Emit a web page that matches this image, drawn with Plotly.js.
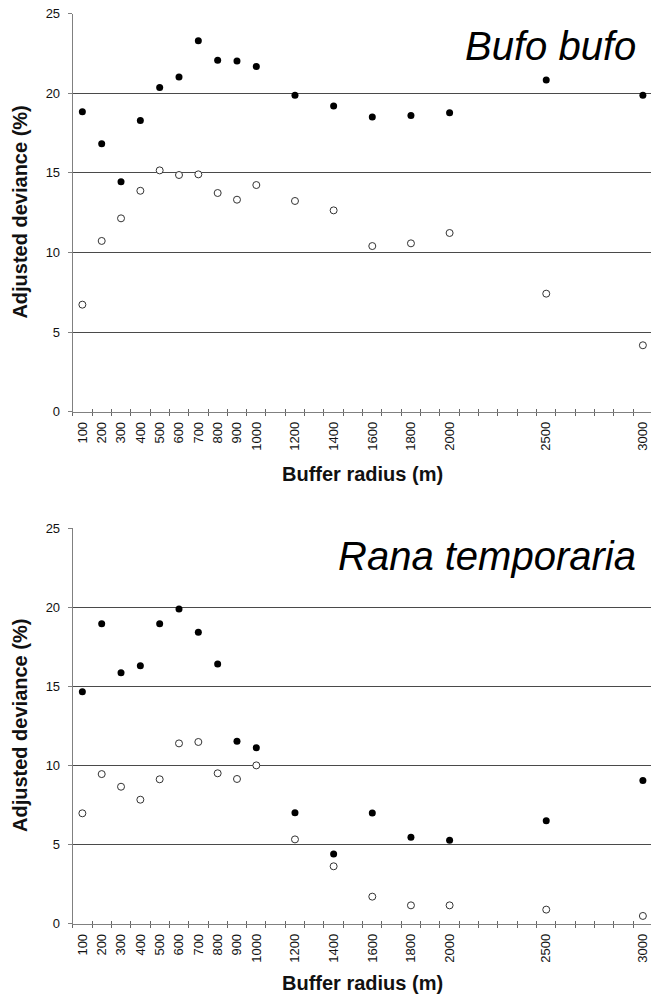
<!DOCTYPE html>
<html>
<head>
<meta charset="utf-8">
<script src="https://cdn.plot.ly/plotly-3.0.1.min.js"></script>
<style>html,body{margin:0;padding:0;background:#fff}#chart{width:651px;height:998px}</style>
</head>
<body>
<div id="chart"></div>
<script>
// Buffer radius categories (m) that carry data
const radius = [100, 200, 300, 400, 500, 600, 700, 800, 900, 1000, 1200, 1400, 1600, 1800, 2000, 2500, 3000];
const radiusLabels = ["100","200","300","400","500","600","700","800","900","1000","1200","1400","1600","1800","2000","2500","3000"];

// Bufo bufo – adjusted deviance (%)
const bufoFilled = [18.83, 16.82, 14.44, 18.29, 20.36, 21.01, 23.29, 22.06, 22.01, 21.68, 19.86, 19.19, 18.50, 18.60, 18.77, 20.82, 19.86];
const bufoOpen   = [6.72, 10.72, 12.14, 13.87, 15.15, 14.86, 14.90, 13.73, 13.31, 14.23, 13.23, 12.64, 10.40, 10.57, 11.22, 7.41, 4.17];

// Rana temporaria – adjusted deviance (%)
const ranaFilled = [14.66, 18.96, 15.87, 16.31, 18.96, 19.90, 18.42, 16.42, 11.53, 11.13, 7.02, 4.41, 7.00, 5.46, 5.27, 6.51, 9.06];
const ranaOpen   = [6.98, 9.46, 8.66, 7.84, 9.13, 11.40, 11.49, 9.51, 9.15, 10.01, 5.33, 3.63, 1.71, 1.16, 1.16, 0.89, 0.49];

const yTicks = [0, 5, 10, 15, 20, 25];
const speciesNames = ["Bufo bufo", "Rana temporaria"];
const xTitle = "Buffer radius (m)";
const yTitle = "Adjusted deviance (%)";

// category boundaries for tick marks (every 100 m category)
const boundaries = [];
for (let b = 50; b <= 3050; b += 100) boundaries.push(b);

const FONT = "Liberation Sans, Arial, sans-serif";
const xRange = [50, 3042];
const xDomain = [72.7 / 651, 1];
const H = 998;
const dom = (top, bottom) => [1 - bottom / H, 1 - top / H];
const topDom = dom(13.5, 411.7);
const botDom = dom(528.3, 923.7);

function filledTrace(y, xa, ya) {
  return {type: "scatter", mode: "markers", x: radius, y: y, xaxis: xa, yaxis: ya,
    marker: {color: "#000", size: 7, line: {width: 0}}, showlegend: false, hoverinfo: "x+y"};
}
function openTrace(y, xa, ya) {
  return {type: "scatter", mode: "markers", x: radius, y: y, xaxis: xa, yaxis: ya,
    marker: {color: "#fff", size: 7, line: {color: "#333", width: 1}}, showlegend: false, hoverinfo: "x+y"};
}
function emptyTrace(xa, ya) {
  return {type: "scatter", mode: "markers", x: [], y: [], xaxis: xa, yaxis: ya, showlegend: false, hoverinfo: "skip"};
}

const data = [
  openTrace(bufoOpen, "x", "y"),
  filledTrace(bufoFilled, "x", "y"),
  openTrace(ranaOpen, "x2", "y2"),
  filledTrace(ranaFilled, "x2", "y2"),
  emptyTrace("x3", "y"), emptyTrace("x5", "y"),
  emptyTrace("x4", "y2"), emptyTrace("x6", "y2")
];

function labelAxis(anchor) {
  return {domain: xDomain, range: xRange, anchor: anchor, type: "linear",
    tickmode: "array", tickvals: radius, ticktext: radiusLabels, tickangle: -90,
    ticks: "", ticklabelstandoff: 4, showgrid: false, zeroline: false, showline: true, linecolor: "#808080", linewidth: 1,
    tickfont: {family: FONT, size: 13, color: "#111"}, fixedrange: true};
}
function tickAxis(anchor, overlay, dir) {
  return {domain: xDomain, range: xRange, anchor: anchor, overlaying: overlay, type: "linear",
    tickmode: "array", tickvals: boundaries, ticks: dir, ticklen: 3, tickwidth: 1, tickcolor: "#666",
    showticklabels: false, showgrid: false, zeroline: false, showline: false, fixedrange: true};
}
function yAxis(domain, anchor) {
  return {domain: domain, range: [0, 25], anchor: anchor, tickmode: "array", tickvals: yTicks,
    ticks: "outside", ticklen: 4, tickcolor: "#808080", ticklabelstandoff: 5,
    showgrid: true, gridcolor: "#4a4a4a", gridwidth: 1,
    zeroline: false, showline: true, linecolor: "#808080", linewidth: 1,
    tickfont: {family: FONT, size: 13, color: "#111"}, fixedrange: true};
}

const ann = [];
// species labels
ann.push({text: speciesNames[0], xref: "paper", yref: "paper", x: 638 / 651, y: 1 - 46 / H,
  xanchor: "right", yanchor: "middle", showarrow: false, font: {family: FONT, size: 40, color: "#000", style: "italic"}});
ann.push({text: speciesNames[1], xref: "paper", yref: "paper", x: 638 / 651, y: 1 - 556 / H,
  xanchor: "right", yanchor: "middle", showarrow: false, font: {family: FONT, size: 40, color: "#000", style: "italic"}});
// axis titles
const xc = (xDomain[0] + 651.7 / 651) / 2;
ann.push({text: "<b>" + xTitle + "</b>", xref: "paper", yref: "paper", x: xc, y: 1 - 474 / H,
  xanchor: "center", yanchor: "middle", showarrow: false, font: {family: FONT, size: 20, color: "#111"}});
ann.push({text: "<b>" + xTitle + "</b>", xref: "paper", yref: "paper", x: xc, y: 1 - 983 / H,
  xanchor: "center", yanchor: "middle", showarrow: false, font: {family: FONT, size: 20, color: "#111"}});
ann.push({text: "<b>" + yTitle + "</b>", xref: "paper", yref: "paper", x: 20 / 651, y: (topDom[0] + topDom[1]) / 2,
  xanchor: "center", yanchor: "middle", textangle: -90, showarrow: false, font: {family: FONT, size: 20, color: "#111"}});
ann.push({text: "<b>" + yTitle + "</b>", xref: "paper", yref: "paper", x: 20 / 651, y: (botDom[0] + botDom[1]) / 2,
  xanchor: "center", yanchor: "middle", textangle: -90, showarrow: false, font: {family: FONT, size: 20, color: "#111"}});

const layout = {
  width: 651, height: 998,
  margin: {l: 0, r: 0, t: 0, b: 0, pad: 0},
  paper_bgcolor: "#fff", plot_bgcolor: "#fff",
  showlegend: false,
  font: {family: FONT, color: "#111"},
  xaxis: labelAxis("y"),
  xaxis2: labelAxis("y2"),
  xaxis3: tickAxis("y", "x", "outside"),
  xaxis5: tickAxis("y", "x", "inside"),
  xaxis4: tickAxis("y2", "x2", "outside"),
  xaxis6: tickAxis("y2", "x2", "inside"),
  yaxis: yAxis(topDom, "x"),
  yaxis2: yAxis(botDom, "x2"),
  annotations: ann
};

Plotly.newPlot("chart", data, layout, {displayModeBar: false, staticPlot: true});
</script>
</body>
</html>
